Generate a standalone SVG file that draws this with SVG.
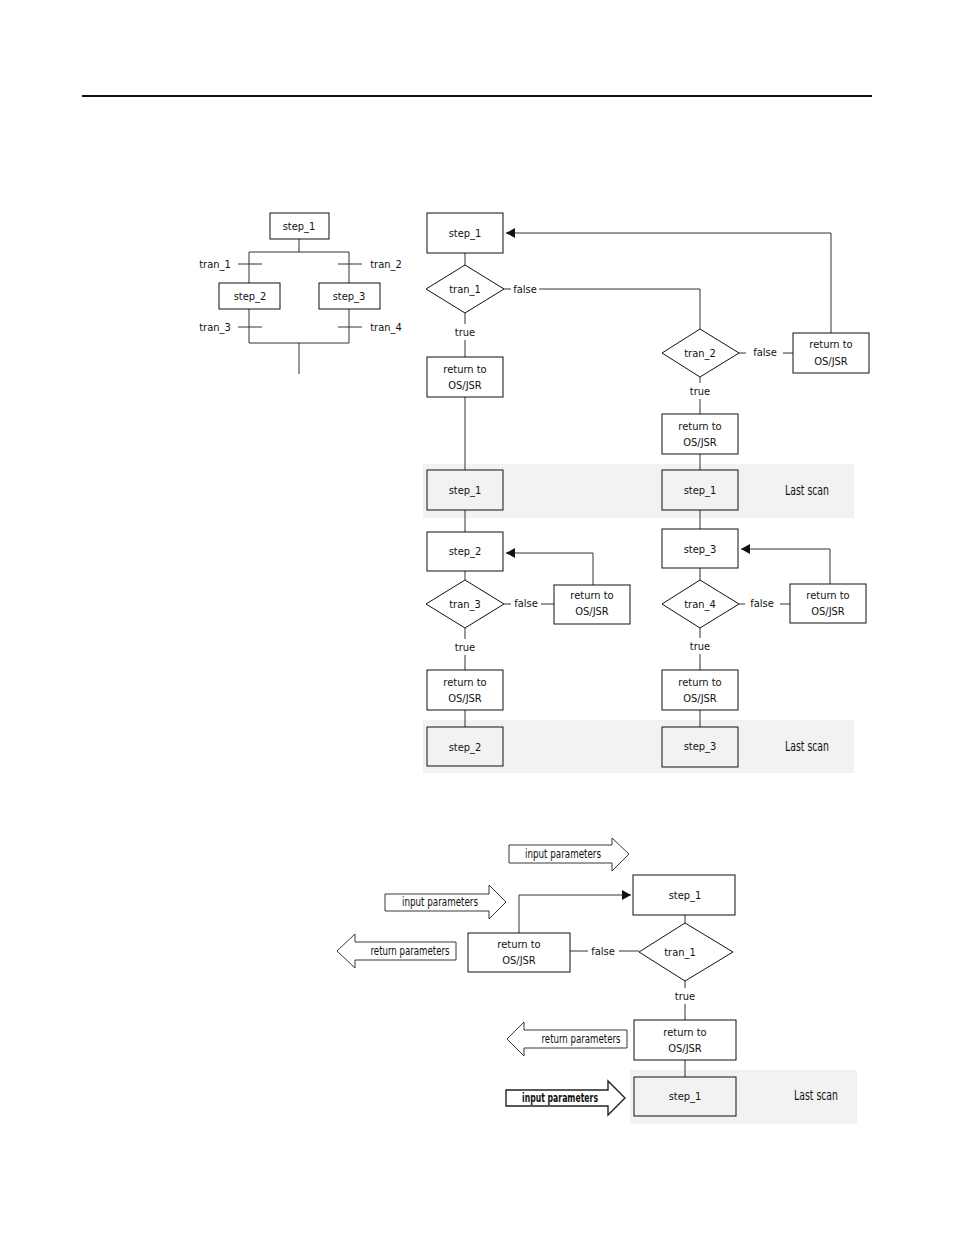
<svg xmlns="http://www.w3.org/2000/svg" width="954" height="1235" viewBox="0 0 954 1235">
<style>
text{font-family:"Liberation Sans Narrow","DejaVu Sans Condensed","Liberation Sans",sans-serif;font-size:11px;fill:#111;text-anchor:middle;dominant-baseline:central}
.box{fill:#fff;stroke:#111;stroke-width:1}
.sh{fill:#f2f2f2;stroke:#111;stroke-width:1}
.band{fill:#f2f2f2;stroke:none}
.ln{fill:none;stroke:#333;stroke-width:1}
.ls{font-size:14px}
.pl{font-size:12px}
.ba{fill:#fff;stroke:#222;stroke-width:0.9}
</style>
<defs>
<marker id="ah" markerWidth="10" markerHeight="10" refX="9" refY="5" orient="auto" markerUnits="userSpaceOnUse">
<path d="M0,0 L9,5 L0,10 Z" fill="#111"/>
</marker>
</defs>
<rect width="954" height="1235" fill="#fff"/>
<line x1="82" y1="96" x2="872" y2="96" stroke="#111" stroke-width="2"/>

<!-- bands -->
<rect class="band" x="423" y="464" width="431" height="54"/>
<rect class="band" x="423" y="720" width="431" height="53"/>
<rect class="band" x="630" y="1070" width="227" height="54"/>

<g id="connectors">
<path class="ln" d="M299,239 V252 M249,252 H349 M249,252 V283 M349,252 V283 M249,309 V343 M349,309 V343 M249,343 H349 M299,343 V374"/>
<path class="ln" d="M238,264 H262 M338,264 H362 M238,327 H262 M338,327 H362"/>
<path class="ln" d="M831,334 V233 H506" marker-end="url(#ah)"/>
<path class="ln" d="M465,253 V265 M465,313 V324 M465,340 V357 M465,397 V470"/>
<path class="ln" d="M504,289 H511 M539,289 H700 V329"/>
<path class="ln" d="M739,353 H746 M783,353 H793"/>
<path class="ln" d="M700,377 V383 M700,399 V414 M700,454 V470"/>
<path class="ln" d="M465,510 V532 M700,510 V529"/>
<path class="ln" d="M593,585 V553 H506" marker-end="url(#ah)"/>
<path class="ln" d="M465,571 V580 M465,628 V639 M465,655 V670 M465,710 V727"/>
<path class="ln" d="M504,604 H511 M541,604 H554"/>
<path class="ln" d="M830,584 V549 H741" marker-end="url(#ah)"/>
<path class="ln" d="M700,568 V580 M700,628 V638 M700,654 V670 M700,710 V727"/>
<path class="ln" d="M739,604 H745 M780,604 H790"/>
<path class="ln" d="M519,933 V895 H631" marker-end="url(#ah)"/>
<path class="ln" d="M570,951 H588 M619,951 H639"/>
<path class="ln" d="M685,915 V923 M685,981 V988 M685,1004 V1020 M685,1060 V1077"/>
</g>

<g id="sfc_step1"><rect class="box" x="270" y="213" width="59" height="26"/><text x="299" y="226">step_1</text></g>
<g id="sfc_step2"><rect class="box" x="219" y="283" width="61" height="26"/><text x="250" y="296">step_2</text></g>
<g id="sfc_step3"><rect class="box" x="319" y="283" width="61" height="26"/><text x="349" y="296">step_3</text></g>
<g id="sfc_tran1"><text x="215" y="264">tran_1</text></g>
<g id="sfc_tran2"><text x="386" y="264">tran_2</text></g>
<g id="sfc_tran3"><text x="215" y="327">tran_3</text></g>
<g id="sfc_tran4"><text x="386" y="327">tran_4</text></g>

<g id="m_step1"><rect class="box" x="427" y="213" width="76" height="40"/><text x="465" y="233">step_1</text></g>
<g id="m_tran1"><path class="box" d="M426,289 L465,265 L504,289 L465,313 Z"/><text x="465" y="289">tran_1</text></g>
<g id="m_false1"><text x="525" y="289">false</text></g>
<g id="m_true1"><text x="465" y="332">true</text></g>
<g id="m_ret1"><rect class="box" x="427" y="357" width="76" height="40"/><text x="465" y="369">return to</text><text x="465" y="385">OS/JSR</text></g>
<g id="m_tran2"><path class="box" d="M662,353 L700,329 L739,353 L700,377 Z"/><text x="700" y="353">tran_2</text></g>
<g id="m_false2"><text x="765" y="352">false</text></g>
<g id="m_ret2"><rect class="box" x="793" y="333" width="76" height="40"/><text x="831" y="344">return to</text><text x="831" y="361">OS/JSR</text></g>
<g id="m_true2"><text x="700" y="391">true</text></g>
<g id="m_ret3"><rect class="box" x="662" y="414" width="76" height="40"/><text x="700" y="426">return to</text><text x="700" y="442">OS/JSR</text></g>
<g id="m_step1_ls_a"><rect class="sh" x="427" y="470" width="76" height="40"/><text x="465" y="490">step_1</text></g>
<g id="m_step1_ls_b"><rect class="sh" x="662" y="470" width="76" height="40"/><text x="700" y="490">step_1</text></g>
<g id="m_lastscan1"><text class="ls" x="807" y="490" textLength="44" lengthAdjust="spacingAndGlyphs">Last scan</text></g>

<g id="m_step2"><rect class="box" x="427" y="532" width="76" height="39"/><text x="465" y="551">step_2</text></g>
<g id="m_tran3"><path class="box" d="M426,604 L465,580 L504,604 L465,628 Z"/><text x="465" y="604">tran_3</text></g>
<g id="m_false3"><text x="526" y="603">false</text></g>
<g id="m_ret4"><rect class="box" x="554" y="585" width="76" height="39"/><text x="592" y="595">return to</text><text x="592" y="611">OS/JSR</text></g>
<g id="m_true3"><text x="465" y="647">true</text></g>
<g id="m_ret5"><rect class="box" x="427" y="670" width="76" height="40"/><text x="465" y="682">return to</text><text x="465" y="698">OS/JSR</text></g>
<g id="m_step2_ls"><rect class="sh" x="427" y="727" width="76" height="39"/><text x="465" y="747">step_2</text></g>

<g id="m_step3"><rect class="box" x="662" y="529" width="76" height="39"/><text x="700" y="549">step_3</text></g>
<g id="m_tran4"><path class="box" d="M662,604 L700,580 L739,604 L700,628 Z"/><text x="700" y="604">tran_4</text></g>
<g id="m_false4"><text x="762" y="603">false</text></g>
<g id="m_ret6"><rect class="box" x="790" y="584" width="76" height="39"/><text x="828" y="595">return to</text><text x="828" y="611">OS/JSR</text></g>
<g id="m_true4"><text x="700" y="646">true</text></g>
<g id="m_ret7"><rect class="box" x="662" y="670" width="76" height="40"/><text x="700" y="682">return to</text><text x="700" y="698">OS/JSR</text></g>
<g id="m_step3_ls"><rect class="sh" x="662" y="727" width="76" height="40"/><text x="700" y="746">step_3</text></g>
<g id="m_lastscan2"><text class="ls" x="807" y="746" textLength="44" lengthAdjust="spacingAndGlyphs">Last scan</text></g>

<g id="b_in1"><path class="ba" d="M509,845 H612 V838 L629,854 L612,871 V863 H509 Z"/><text class="pl" x="563" y="854" textLength="76" lengthAdjust="spacingAndGlyphs">input parameters</text></g>
<g id="b_in2"><path class="ba" d="M385,894 H489 V885 L506,902 L489,919 V911 H385 Z"/><text class="pl" x="440" y="902" textLength="76" lengthAdjust="spacingAndGlyphs">input parameters</text></g>
<g id="b_retp1"><path class="ba" d="M456,942 H355 V934 L337,951 L355,968 V960 H456 Z"/><text class="pl" x="410" y="951" textLength="79" lengthAdjust="spacingAndGlyphs">return parameters</text></g>
<g id="b_step1"><rect class="box" x="633" y="875" width="102" height="40"/><text x="685" y="895">step_1</text></g>
<g id="b_ret1"><rect class="box" x="468" y="933" width="102" height="39"/><text x="519" y="944">return to</text><text x="519" y="960">OS/JSR</text></g>
<g id="b_false"><text x="603" y="951">false</text></g>
<g id="b_tran1"><path class="box" d="M639,952 L685,923 L733,952 L685,981 Z"/><text x="680" y="952">tran_1</text></g>
<g id="b_true"><text x="685" y="996">true</text></g>
<g id="b_ret2"><rect class="box" x="634" y="1020" width="102" height="40"/><text x="685" y="1032">return to</text><text x="685" y="1048">OS/JSR</text></g>
<g id="b_retp2"><path class="ba" d="M627,1030 H524 V1022 L507,1039 L524,1056 V1048 H627 Z"/><text class="pl" x="581" y="1039" textLength="79" lengthAdjust="spacingAndGlyphs">return parameters</text></g>
<g id="b_step1_ls"><rect class="sh" x="634" y="1077" width="102" height="39"/><text x="685" y="1096">step_1</text></g>
<g id="b_in3"><path class="ba" d="M506,1090 H608 V1081 L625,1098 L608,1115 V1106 H506 Z" style="stroke-width:1.4"/><text class="pl" x="560" y="1098" font-weight="bold" textLength="76" lengthAdjust="spacingAndGlyphs">input parameters</text></g>
<g id="b_lastscan"><text class="ls" x="816" y="1095" textLength="44" lengthAdjust="spacingAndGlyphs">Last scan</text></g>
</svg>
